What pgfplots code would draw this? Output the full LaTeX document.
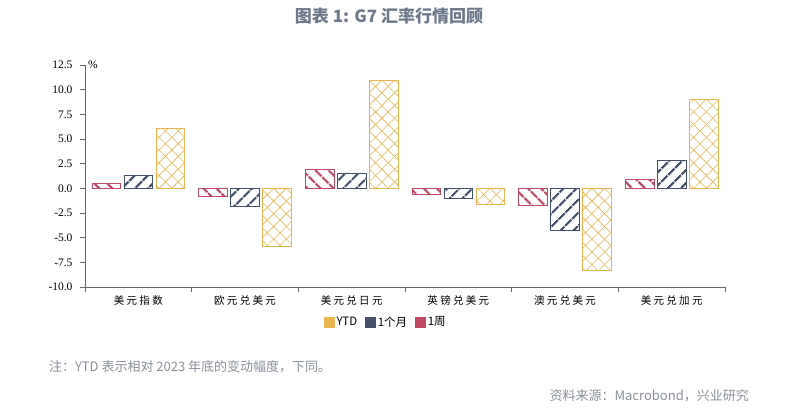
\documentclass[border=0pt]{standalone}
\usepackage{fontspec}
\setmainfont{Liberation Sans}
\newfontfamily\cjk{Noto Sans CJK SC}
\newfontfamily\cjkls[LetterSpace=22]{Noto Sans CJK SC}
\newfontfamily\serifnum{Liberation Serif}
\usepackage{pgfplots}
\pgfplotsset{compat=1.18}
\usetikzlibrary{patterns.meta}
\definecolor{cytd}{HTML}{E8B552}
\definecolor{cnavy}{HTML}{445068}
\definecolor{cred}{HTML}{C04A63}
\definecolor{ctitle}{HTML}{6E7A8A}
\definecolor{cnote}{HTML}{8A909A}
\definecolor{caxis}{HTML}{666666}
\begin{document}
\begin{tikzpicture}
\useasboundingbox (0,0) rectangle (793bp,-411bp);
\node[font=\cjk\bfseries\fontsize{17bp}{20bp}\selectfont, text=ctitle] at (389bp,-16bp) {图表 1: G7 汇率行情回顾};
\begin{axis}[
  at={(85bp,-65bp)}, anchor=north west,
  scale only axis, width=640bp, height=222bp,
  xmin=-0.5, xmax=5.5, ymin=-10, ymax=12.5,
  axis lines*=left,
  axis line style={caxis, line width=0.8pt},
  tick style={caxis, line width=0.8pt},
  tick align=outside, major tick length=5bp,
  ytick={-10,-7.5,...,12.5},
  yticklabel style={font=\serifnum\fontsize{11.5bp}{13bp}\selectfont, xshift=-4bp, /pgf/number format/.cd, fixed, fixed zerofill, precision=1, assume math mode=true},
  xtick={-0.5,0.5,...,5.5},
  xticklabels={美元指数,欧元兑美元,美元兑日元,英镑兑美元,澳元兑美元,美元兑加元},
  x tick label as interval,
  xticklabel style={font=\cjkls\fontsize{10.5bp}{12bp}\selectfont},
  bar width=0.27,
  legend style={at={(0.47,-0.158)}, anchor=center, draw=none, legend columns=3,
    font=\cjk\fontsize{11.5bp}{13bp}\selectfont,
    /tikz/every even column/.append style={column sep=6bp}},
  legend image code/.code={\draw[#1,line width=0.6pt] (0bp,-5bp) rectangle (10bp,5bp);},
  clip=false,
]
\addplot[ybar, draw=cytd, line width=0.8pt, pattern={Hatch[angle=45,distance=9bp,line width=0.6bp]}, pattern color=cytd, legend image post style={fill=cytd}]
  coordinates {(0.3,6.09) (1.3,-5.89) (2.3,10.96) (3.3,-1.58) (4.3,-8.32) (5.3,8.97)};
\addlegendentry{YTD}
\addplot[ybar, draw=cnavy, line width=0.8pt, pattern={Lines[angle=45,distance=10bp,line width=2.6bp]}, pattern color=cnavy, legend image post style={fill=cnavy}]
  coordinates {(0,1.29) (1,-1.79) (2,1.56) (3,-1.0) (4,-4.22) (5,2.81)};
\addlegendentry{1个月}
\addplot[ybar, draw=cred, line width=0.8pt, pattern={Lines[angle=-45,distance=10bp,line width=2.6bp]}, pattern color=cred, legend image post style={fill=cred}]
  coordinates {(-0.3,0.51) (0.7,-0.85) (1.7,1.87) (2.7,-0.57) (3.7,-1.76) (4.7,0.88)};
\addlegendentry{1周}
\node[anchor=west, font=\serifnum\fontsize{11.5bp}{13bp}\selectfont, inner sep=0pt] at (rel axis cs:0,1) [xshift=3bp] {\%};
\end{axis}
\node[anchor=west, font=\cjk\fontsize{13bp}{15bp}\selectfont, text=cnote, inner sep=0pt] at (49bp,-367bp) {注：YTD 表示相对 2023 年底的变动幅度，下同。};
\node[anchor=east, font=\cjk\fontsize{13bp}{15bp}\selectfont, text=cnote, inner sep=0pt] at (749bp,-396bp) {资料来源：Macrobond，兴业研究};
\end{tikzpicture}
\end{document}
